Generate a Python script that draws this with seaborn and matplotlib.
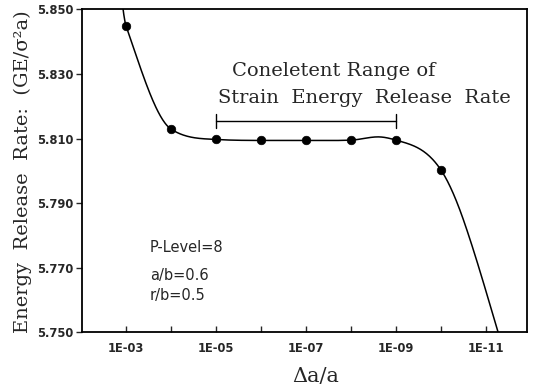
import numpy as np
import pandas as pd
import matplotlib
matplotlib.use("Agg")
import matplotlib.pyplot as plt
import seaborn as sns

# ---- data ----
delta_a = [1e-3, 1e-4, 1e-5, 1e-6, 1e-7, 1e-8, 1e-9, 1e-10]
g_values = [5.8448, 5.8129, 5.8097, 5.8094, 5.8094, 5.8094, 5.8095, 5.8002]

# shape of the drawn smooth curve:
# knot (decade exponent), value and local slope (per decade)
curve_exp = [2.90, 3.00, 4.00, 5.00, 6.00, 7.00, 8.00, 8.60, 9.00, 10.00, 10.50, 11.30]
curve_g = [5.8535, 5.8448, 5.8129, 5.8097, 5.8094, 5.8094, 5.8095, 5.8105, 5.8095, 5.8002, 5.7847, 5.7485]
curve_slope = [-0.110, -0.040, -0.009, -0.0008, 0.0, 0.0, 0.0006, 0.0, -0.004, -0.021, -0.040, -0.047]

y_ticks = [5.750, 5.770, 5.790, 5.810, 5.830, 5.850]
y_tick_labels = ["5.750", "5.770", "5.790", "5.810", "5.830", "5.850"]
x_ticks = [1e-3, 1e-4, 1e-5, 1e-6, 1e-7, 1e-8, 1e-9, 1e-10, 1e-11]
x_tick_labels = ["1E-03", "", "1E-05", "", "1E-07", "", "1E-09", "", "1E-11"]

range_lo, range_hi, range_level = 1e-5, 1e-9, 5.8154
params_text = ["P-Level=8", "a/b=0.6", "r/b=0.5"]


def hermite(xk, yk, mk, n=60):
    xs, ys = [], []
    for i in range(len(xk) - 1):
        h = xk[i + 1] - xk[i]
        t = np.linspace(0, 1, n)
        h00 = 2 * t**3 - 3 * t**2 + 1
        h10 = t**3 - 2 * t**2 + t
        h01 = -2 * t**3 + 3 * t**2
        h11 = t**3 - t**2
        xs.append(xk[i] + t * h)
        ys.append(h00 * yk[i] + h10 * h * mk[i] + h01 * yk[i + 1] + h11 * h * mk[i + 1])
    return np.concatenate(xs), np.concatenate(ys)


sns.set_style("ticks")
plt.rcParams["font.family"] = ["DejaVu Sans"]

W, H = 536, 388
fig = plt.figure(figsize=(W / 100, H / 100), dpi=100)
ax = fig.add_axes([82 / W, (H - 332.3) / H, 445 / W, 323 / H])

cu, cg = hermite(curve_exp, curve_g, curve_slope)
curve_df = pd.DataFrame({"x": 10.0 ** (-cu), "g": cg})
pts_df = pd.DataFrame({"x": delta_a, "g": g_values})

sns.lineplot(data=curve_df, x="x", y="g", ax=ax, color="black", lw=1.1, sort=False)
sns.scatterplot(data=pts_df, x="x", y="g", ax=ax, color="black", s=38, edgecolor="black", zorder=5)

ax.set_xscale("log")
ax.set_xlim(10 ** -2.02, 10 ** -11.91)
ax.set_ylim(5.750, 5.850)

ax.set_xticks(x_ticks)
ax.set_xticklabels(x_tick_labels)
ax.minorticks_off()
ax.set_yticks(y_ticks)
ax.set_yticklabels(y_tick_labels)
ax.tick_params(axis="x", direction="in", length=4, width=1, pad=7, labelsize=8.3)
ax.tick_params(axis="y", direction="out", length=4, width=1, pad=2, labelsize=8.3)
for lab in ax.get_xticklabels() + ax.get_yticklabels():
    lab.set_fontweight("bold")
for sp in ax.spines.values():
    sp.set_visible(True)
    sp.set_linewidth(1.3)
    sp.set_color("black")

ax.set_xlabel("")
ax.set_ylabel("")

serif = ["DejaVu Serif"]
fig.text(23 / W, 1 - 172 / H, "Energy  Release  Rate:  (GE/σ²a)", rotation=90,
         ha="center", va="center", fontsize=14, family=serif)
fig.text(316 / W, 1 - 376 / H, "Δa/a", ha="center", va="center", fontsize=15, family=serif)

# range annotation
ax.plot([range_lo, range_hi], [range_level, range_level], color="black", lw=1.0)
ax.plot([range_lo, range_lo], [range_level - 0.0022, range_level + 0.0022], color="black", lw=1.0)
ax.plot([range_hi, range_hi], [range_level - 0.0022, range_level + 0.0022], color="black", lw=1.0)
fig.text(232 / W, 1 - 76 / H, "Coneletent Range of", ha="left", va="baseline",
         fontsize=14, family=serif)
fig.text(218 / W, 1 - 103 / H, "Strain  Energy  Release  Rate", ha="left", va="baseline",
         fontsize=14, family=serif)

for txt, yb in zip(params_text, [252, 280, 300]):
    fig.text(150 / W, 1 - yb / H, txt, ha="left", va="baseline", fontsize=10.5)

fig.savefig("out.png", dpi=100)
